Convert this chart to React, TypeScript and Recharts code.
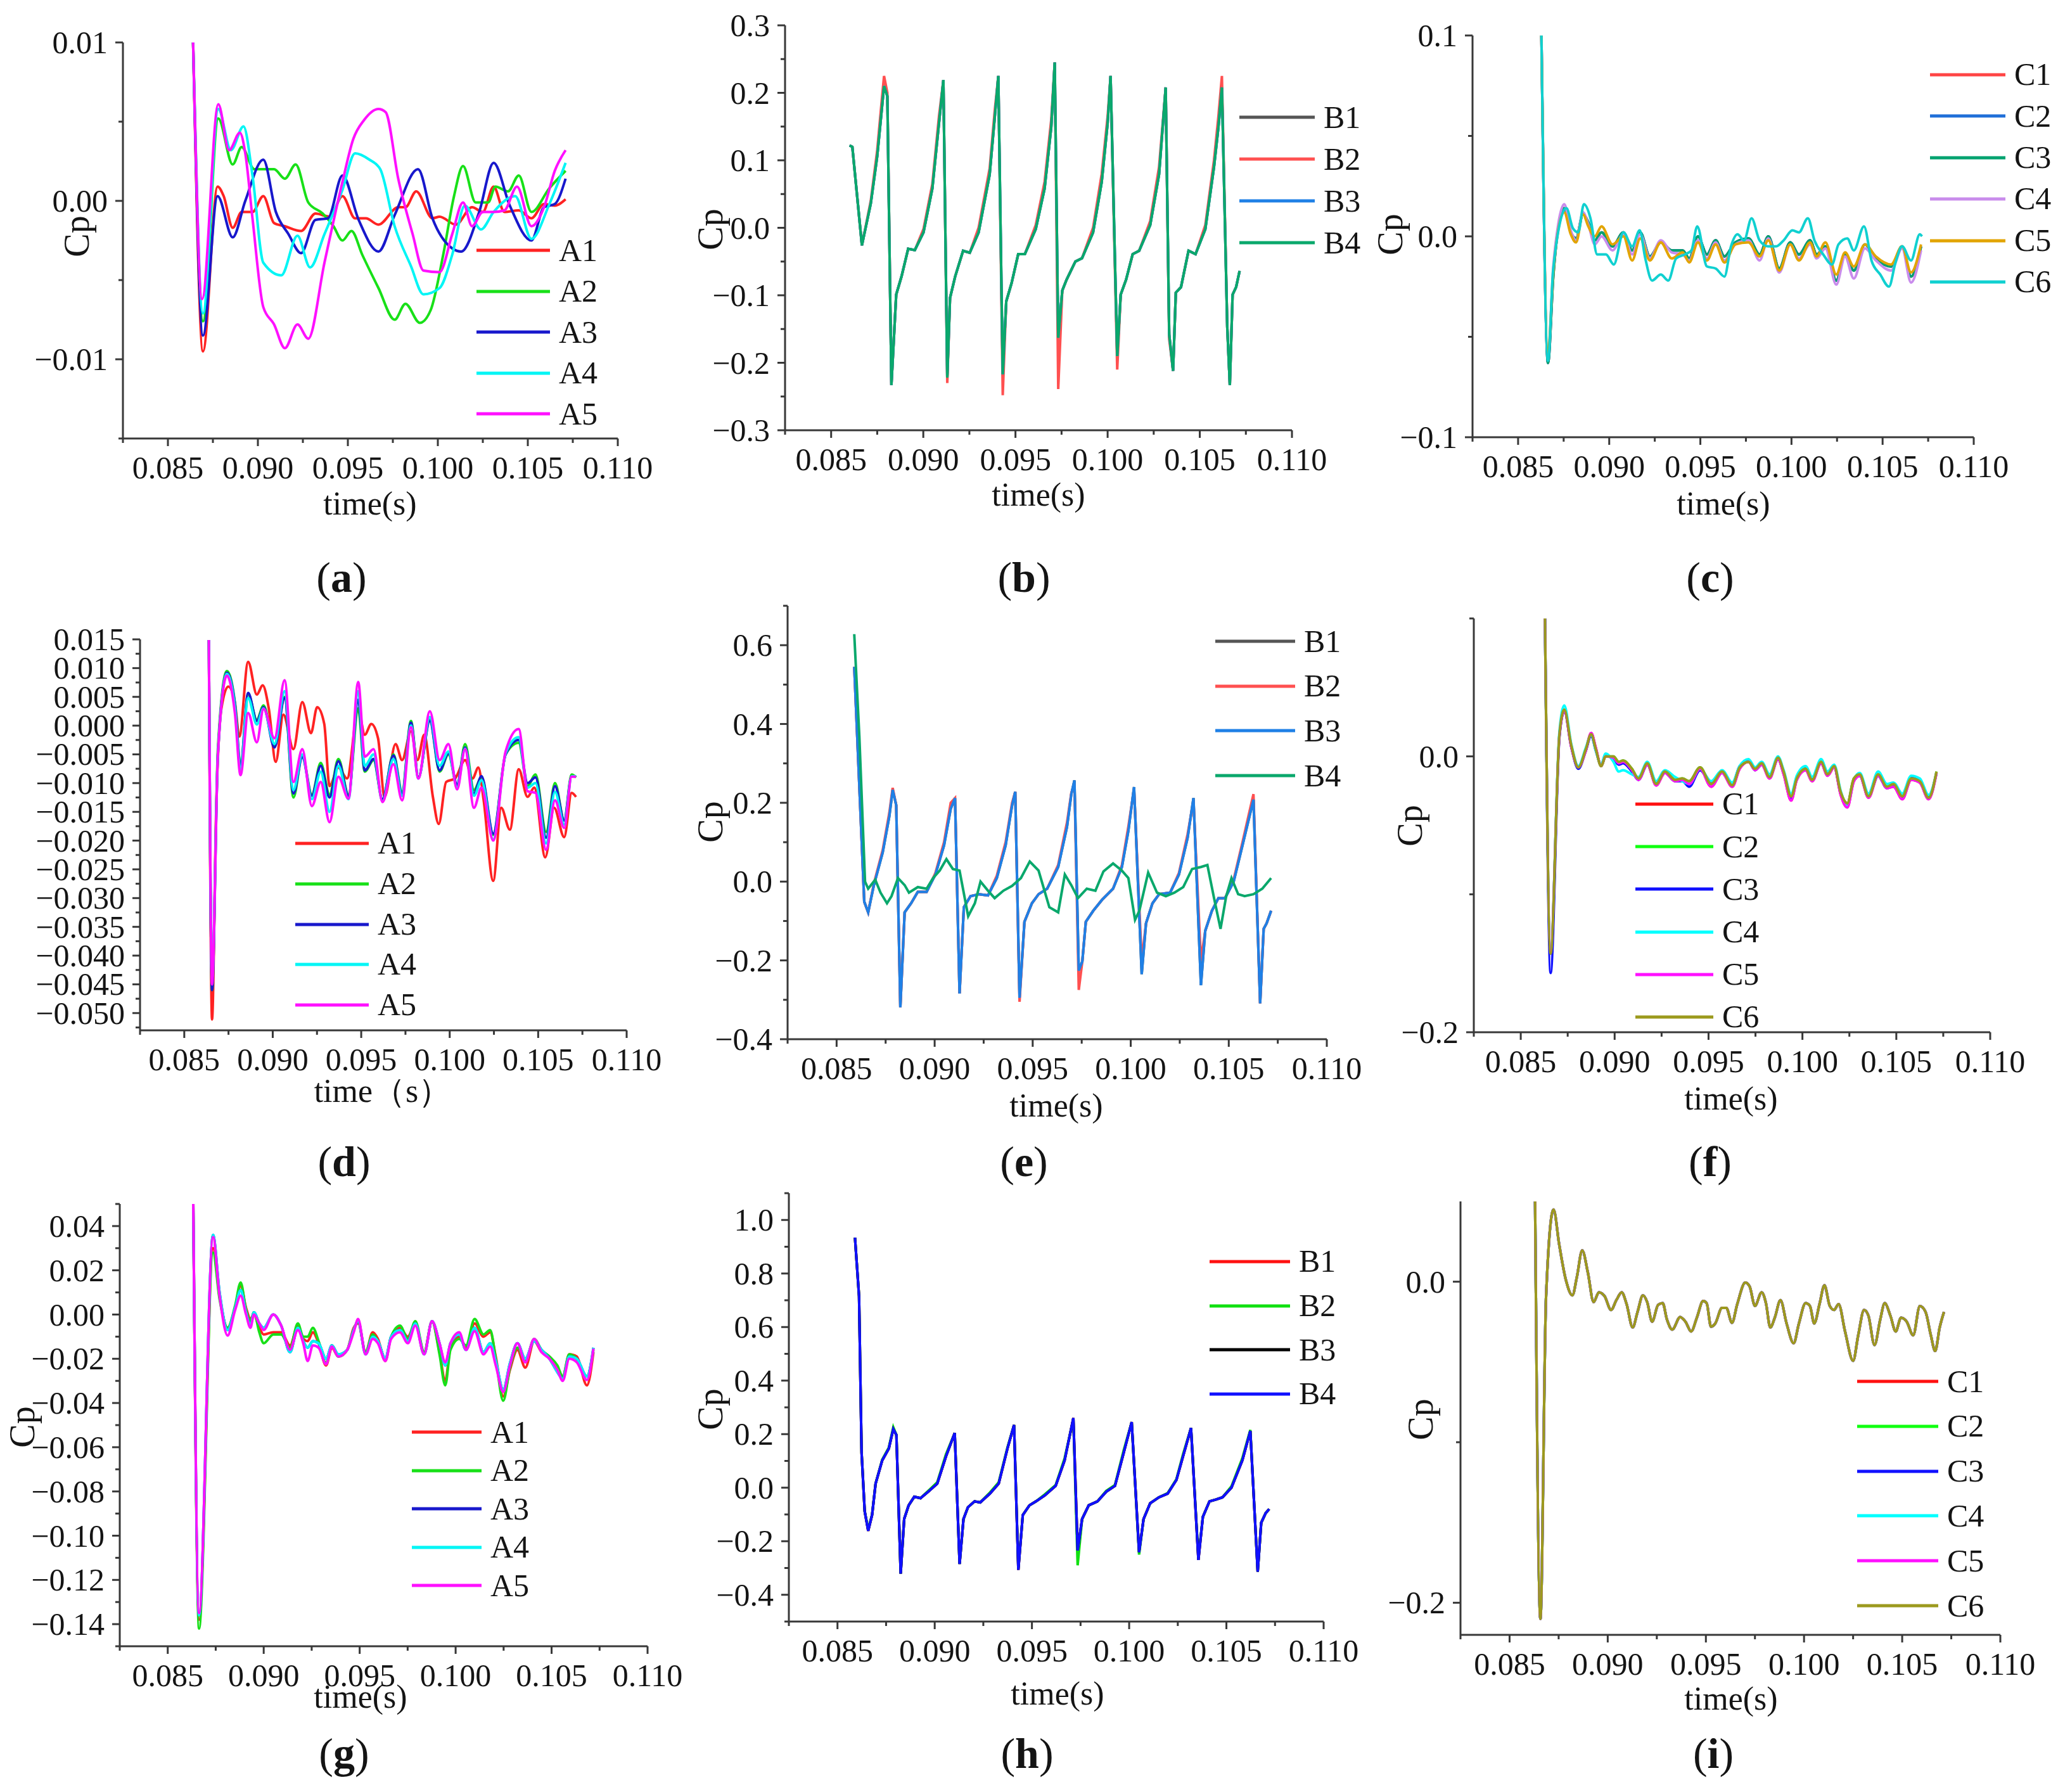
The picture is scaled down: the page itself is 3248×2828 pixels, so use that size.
import React from 'react'
import { LineChart, Line, XAxis, YAxis, Legend } from 'recharts'

// Cp time histories at probe rows A/B/C, three cases (rows a-c, d-f, g-i).

const FONT = '"Liberation Serif", "Times New Roman", serif'
const AXIS = '#383838'
const INK = '#141414'

// shared time axis
const X_DOMAIN: [number, number] = [0.0825, 0.11]
const X_MAJOR = [0.085, 0.09, 0.095, 0.1, 0.105, 0.11]
const X_MINOR = [0.0825, 0.0875, 0.0925, 0.0975, 0.1025, 0.1075]

// ---------- (a) rows A, case 1 : [time, Cp]
const aA1 = [[0.0864, 0.01], [0.08695, -0.0095], [0.08776, 0.0009], [0.0881, 0.0003], [0.0886, -0.0017], [0.0891, -0.0007], [0.0897, -0.0007], [0.0903, 0.0003], [0.0909, -0.0014], [0.0915, -0.0016], [0.0924, -0.0019], [0.0932, -0.0008], [0.094, -0.001], [0.0947, 0.0003], [0.0954, -0.0011], [0.096, -0.0011], [0.0967, -0.0015], [0.0978, -0.0004], [0.0982, -0.0004], [0.0988, 0.0006], [0.0997, -0.0011], [0.1001, -0.001], [0.101, -0.0015], [0.1019, -0.0004], [0.1025, -0.0007], [0.1031, 0.0009], [0.1037, -0.0007], [0.1045, -0.0006], [0.1052, -0.0011], [0.1059, -0.0002], [0.1065, -0.0003], [0.1071, 0.0001]]
const aA2 = [[0.0864, 0.01], [0.08695, -0.0076], [0.0878, 0.0052], [0.0886, 0.0023], [0.0891, 0.0034], [0.0898, 0.002], [0.0904, 0.002], [0.0909, 0.002], [0.0915, 0.0014], [0.0921, 0.0023], [0.0928, -0.0001], [0.0936, -0.0008], [0.0942, -0.0016], [0.0947, -0.0025], [0.0952, -0.0019], [0.0958, -0.0034], [0.0967, -0.0055], [0.0976, -0.0075], [0.0982, -0.0065], [0.099, -0.0077], [0.0996, -0.0069], [0.1003, -0.0034], [0.1009, 0.0003], [0.1014, 0.0022], [0.1021, -0.0001], [0.1028, -0.0001], [0.1032, 0.0009], [0.1039, 0.0006], [0.1045, 0.0016], [0.1052, -0.0007], [0.1062, 0.0008], [0.1071, 0.0019]]
const aA3 = [[0.0864, 0.01], [0.08695, -0.0085], [0.08776, 0.0003], [0.0886, -0.0023], [0.0893, 0], [0.0903, 0.0026], [0.091, -0.0007], [0.0917, -0.0021], [0.0924, -0.0033], [0.0932, -0.0012], [0.0939, -0.0011], [0.0947, 0.0016], [0.0956, -0.0012], [0.0967, -0.0032], [0.0976, -0.0009], [0.0989, 0.002], [0.0997, -0.0011], [0.1008, -0.003], [0.1013, -0.0032], [0.1023, -0.0007], [0.1031, 0.0024], [0.104, -0.0003], [0.1052, -0.0025], [0.1059, -0.0004], [0.1065, -0.0002], [0.1071, 0.0014]]
const aA4 = [[0.0864, 0.01], [0.08695, -0.0071], [0.0878, 0.0058], [0.0885, 0.0032], [0.0892, 0.0047], [0.0897, 0.0016], [0.0903, -0.0039], [0.0913, -0.0047], [0.0922, -0.0022], [0.0929, -0.0042], [0.0937, -0.0021], [0.0947, 0.0007], [0.0954, 0.003], [0.0962, 0.0026], [0.0968, 0.002], [0.0976, -0.0016], [0.0985, -0.0041], [0.0992, -0.0059], [0.1001, -0.0055], [0.1008, -0.0034], [0.1015, -0.0003], [0.1024, -0.0018], [0.1031, -0.0007], [0.1043, 0.0003], [0.1052, -0.0024], [0.1062, -0.0002], [0.1071, 0.0024]]
const aA5 = [[0.0864, 0.01], [0.0869, -0.0062], [0.0878, 0.0061], [0.0884, 0.0032], [0.089, 0.0043], [0.0893, 0.003], [0.0897, -0.0011], [0.0903, -0.0067], [0.0909, -0.0078], [0.0915, -0.0093], [0.0922, -0.0078], [0.0928, -0.0087], [0.0937, -0.0039], [0.0947, 0.0012], [0.0953, 0.0039], [0.0959, 0.0051], [0.0967, 0.0058], [0.0971, 0.0056], [0.0978, 0.0014], [0.0986, -0.0021], [0.0992, -0.0044], [0.1001, -0.0045], [0.1008, -0.0021], [0.1014, -0.0001], [0.1019, -0.0016], [0.1025, -0.0007], [0.1031, -0.0007], [0.1037, -0.0006], [0.1044, 0.0009], [0.1052, -0.0016], [0.1059, -0.0004], [0.1065, 0.0019], [0.1071, 0.0032]]

// ---------- (b) rows B, case 1 (B1, B3 lie under B4)
const bT = [0.086, 0.08615, 0.08667, 0.08715, 0.0875, 0.08775, 0.08787, 0.08805, 0.08827, 0.08853, 0.08882, 0.08918, 0.08954, 0.09001, 0.09049, 0.09085, 0.09109, 0.0913, 0.09145, 0.09173, 0.09216, 0.09252, 0.093, 0.0936, 0.09388, 0.09407, 0.09431, 0.0945, 0.09479, 0.09515, 0.09551, 0.0961, 0.09658, 0.09694, 0.09713, 0.09732, 0.09754, 0.09777, 0.09825, 0.09861, 0.09921, 0.09968, 0.1, 0.10016, 0.10052, 0.10071, 0.101, 0.10136, 0.10171, 0.10231, 0.10279, 0.10315, 0.10334, 0.10355, 0.1037, 0.10398, 0.10439, 0.10477, 0.1053, 0.10577, 0.10601, 0.1062, 0.10649, 0.10663, 0.10678, 0.10697, 0.10716]
const bB4 = [0.122, 0.12, -0.026, 0.036, 0.106, 0.176, 0.21, 0.195, -0.233, -0.099, -0.072, -0.031, -0.033, -0.007, 0.058, 0.155, 0.219, -0.222, -0.104, -0.072, -0.034, -0.037, -0.007, 0.079, 0.165, 0.225, -0.217, -0.109, -0.082, -0.039, -0.039, -0.002, 0.058, 0.149, 0.245, -0.163, -0.093, -0.077, -0.05, -0.045, -0.007, 0.068, 0.155, 0.225, -0.19, -0.099, -0.077, -0.039, -0.034, 0.004, 0.079, 0.208, -0.158, -0.212, -0.096, -0.088, -0.034, -0.039, -0.002, 0.09, 0.149, 0.208, -0.147, -0.233, -0.099, -0.088, -0.064]
const bB2 = [0.122, 0.12, -0.026, 0.04, 0.115, 0.19, 0.225, 0.2, -0.233, -0.099, -0.072, -0.031, -0.033, -0.002, 0.065, 0.165, 0.219, -0.23, -0.104, -0.072, -0.034, -0.037, 0, 0.088, 0.175, 0.225, -0.248, -0.109, -0.082, -0.039, -0.039, 0.004, 0.068, 0.16, 0.245, -0.239, -0.093, -0.077, -0.05, -0.045, 0, 0.08, 0.165, 0.225, -0.21, -0.099, -0.077, -0.039, -0.034, 0.01, 0.09, 0.208, -0.165, -0.212, -0.096, -0.088, -0.034, -0.039, 0.004, 0.1, 0.165, 0.225, -0.147, -0.233, -0.099, -0.088, -0.064]

// ---------- (c) rows C, case 1 (C1, C2 lie under C3)
const cT = [0.08628, 0.08664, 0.08693, 0.0872, 0.08753, 0.08789, 0.08818, 0.08856, 0.08885, 0.08921, 0.08958, 0.09018, 0.09078, 0.09126, 0.0917, 0.09223, 0.09283, 0.09343, 0.09403, 0.09439, 0.09487, 0.09536, 0.09584, 0.09632, 0.09692, 0.09764, 0.09825, 0.09873, 0.09933, 0.09993, 0.10041, 0.10102, 0.10138, 0.10186, 0.10246, 0.10294, 0.10342, 0.10403, 0.10463, 0.10547, 0.10607, 0.10656, 0.10711]
const cC3 = [0.1, -0.063, -0.02, 0.004, 0.014, 0.002, -0.001, 0.011, 0.007, -0.002, 0.002, -0.005, 0.002, -0.007, 0.002, -0.01, -0.003, -0.007, -0.007, -0.011, 0, -0.009, -0.002, -0.01, -0.003, -0.001, -0.009, 0, -0.016, -0.003, -0.009, -0.002, -0.009, -0.005, -0.022, -0.009, -0.017, -0.004, -0.011, -0.015, -0.005, -0.02, -0.005]
const cC4 = [0.1, -0.06, -0.015, 0.006, 0.016, 0.003, -0.002, 0.012, 0.006, -0.004, 0, -0.007, 0.001, -0.009, 0.001, -0.011, -0.002, -0.008, -0.009, -0.012, -0.002, -0.011, -0.003, -0.012, -0.004, -0.002, -0.012, -0.001, -0.018, -0.004, -0.011, -0.004, -0.011, -0.006, -0.024, -0.01, -0.021, -0.006, -0.012, -0.017, -0.006, -0.023, -0.007]
const cC5 = [0.1, -0.058, -0.018, 0.003, 0.012, 0.001, -0.003, 0.011, 0.005, 0, 0.005, -0.004, 0, -0.012, -0.001, -0.012, -0.003, -0.011, -0.008, -0.013, -0.003, -0.012, -0.004, -0.013, -0.004, -0.003, -0.01, -0.002, -0.017, -0.004, -0.012, -0.003, -0.01, -0.003, -0.019, -0.008, -0.015, -0.004, -0.01, -0.014, -0.005, -0.018, -0.004]
const cC6 = [[0.08628, 0.1], [0.08664, -0.062], [0.08693, -0.016], [0.08765, 0.014], [0.08801, 0.004], [0.0883, 0.002], [0.08861, 0.016], [0.08897, 0.009], [0.08934, -0.009], [0.08982, -0.009], [0.09025, -0.014], [0.09078, 0.002], [0.09126, -0.005], [0.09167, 0.003], [0.09198, -0.011], [0.09235, -0.022], [0.09283, -0.019], [0.09324, -0.022], [0.09367, -0.011], [0.09415, -0.009], [0.09451, -0.007], [0.09483, 0.005], [0.09536, -0.015], [0.09584, -0.016], [0.09632, -0.02], [0.09668, -0.005], [0.09704, 0.001], [0.0974, -0.002], [0.09781, 0.009], [0.09825, -0.002], [0.09873, -0.005], [0.09916, -0.005], [0.09957, -0.002], [0.10005, 0.003], [0.10041, 0.002], [0.1009, 0.009], [0.10126, -0.002], [0.10174, -0.009], [0.10222, -0.014], [0.10258, -0.004], [0.10306, -0.001], [0.10342, -0.007], [0.10398, 0.005], [0.10439, -0.012], [0.10487, -0.019], [0.10535, -0.025], [0.10571, -0.013], [0.10607, -0.005], [0.10656, -0.012], [0.10704, 0.001], [0.10716, 0]]

// ---------- (d) rows A, case 2
const dA1 = [[0.08639, 0.0149], [0.08657, -0.0511], [0.0868, -0.015], [0.0871, 0.003], [0.08749, 0.0068], [0.08786, 0.004], [0.08811, -0.0019], [0.08861, 0.0111], [0.0891, 0.0054], [0.08943, 0.007], [0.08978, 0.0029], [0.09017, -0.0063], [0.0906, 0.0019], [0.09117, -0.0041], [0.09167, 0.0041], [0.09216, -0.0013], [0.09251, 0.0032], [0.09291, 0.0003], [0.09321, -0.0105], [0.09371, -0.0073], [0.0942, -0.0092], [0.09483, 0.0029], [0.0952, -0.0016], [0.09557, 0.0003], [0.09595, -0.0022], [0.09632, -0.0124], [0.09694, -0.0032], [0.09731, -0.006], [0.09781, -0.001], [0.09818, -0.006], [0.09856, -0.0016], [0.09905, -0.0124], [0.09938, -0.0171], [0.0998, -0.0098], [0.1003, -0.0092], [0.10087, -0.006], [0.10129, -0.0092], [0.10162, -0.0073], [0.10192, -0.013], [0.10246, -0.027], [0.10291, -0.0143], [0.1034, -0.0181], [0.1039, -0.0076], [0.1044, -0.0124], [0.10478, -0.0108], [0.1054, -0.0229], [0.1059, -0.0143], [0.10647, -0.0194], [0.10689, -0.0117], [0.10714, -0.0124]]
const dT = [0.08639, 0.08657, 0.0869, 0.08741, 0.08786, 0.08818, 0.08861, 0.0891, 0.08948, 0.0901, 0.09067, 0.09117, 0.09167, 0.09221, 0.09271, 0.09321, 0.09371, 0.09428, 0.09483, 0.0952, 0.0957, 0.0962, 0.09682, 0.09731, 0.09781, 0.09823, 0.09888, 0.09943, 0.09993, 0.10042, 0.10087, 0.10137, 0.1018, 0.10246, 0.10316, 0.1039, 0.1044, 0.10485, 0.10545, 0.10595, 0.10647, 0.10689, 0.10714]
const dA2 = [0.0149, -0.046, -0.004, 0.0095, 0.004, -0.007, 0.0055, 0.001, 0.0035, -0.0035, 0.005, -0.0125, -0.0052, -0.012, -0.0065, -0.012, -0.0058, -0.012, 0.003, -0.008, -0.006, -0.013, -0.005, -0.0115, 0.0008, -0.009, 0.001, -0.008, -0.005, -0.0105, -0.0032, -0.0112, -0.009, -0.019, -0.005, -0.003, -0.0105, -0.0085, -0.0185, -0.01, -0.0165, -0.0085, -0.009]
const dA3 = [0.0149, -0.046, -0.005, 0.0092, 0.0038, -0.0072, 0.0057, 0.0008, 0.0032, -0.0038, 0.0048, -0.0118, -0.0055, -0.0122, -0.007, -0.0125, -0.0062, -0.0122, 0.0045, -0.0078, -0.0058, -0.0128, -0.0052, -0.0118, 0.0005, -0.009, 0.0008, -0.0078, -0.0048, -0.0102, -0.0038, -0.0118, -0.0088, -0.0188, -0.005, -0.0025, -0.01, -0.009, -0.0195, -0.0105, -0.0165, -0.0088, -0.0088]
const dA4 = [0.0149, -0.044, -0.005, 0.009, 0.0032, -0.0078, 0.0048, 0.0002, 0.003, -0.0032, 0.006, -0.0112, -0.005, -0.0128, -0.008, -0.015, -0.007, -0.0128, 0.006, -0.007, -0.005, -0.0132, -0.0058, -0.0122, 0, -0.0092, 0.0015, -0.007, -0.0045, -0.0108, -0.004, -0.0122, -0.0095, -0.0198, -0.0048, -0.002, -0.0108, -0.01, -0.0205, -0.0115, -0.0172, -0.0088, -0.0088]
const dA5 = [0.0149, -0.045, -0.005, 0.0087, 0.0022, -0.0086, 0.0022, -0.0029, 0.0029, -0.0022, 0.0079, -0.0098, -0.0041, -0.014, -0.0098, -0.0168, -0.0089, -0.0127, 0.0076, -0.0054, -0.0041, -0.0133, -0.0067, -0.013, -0.0003, -0.0092, 0.0025, -0.006, -0.0032, -0.0111, -0.0041, -0.0143, -0.0108, -0.02, -0.0045, -0.0006, -0.0114, -0.0117, -0.0216, -0.013, -0.0178, -0.0089, -0.0089]

// ---------- (e) rows B, case 2 (B1 lies under B3)
const eT = [0.0859, 0.08641, 0.08661, 0.0869, 0.08735, 0.08769, 0.08786, 0.08804, 0.08825, 0.08847, 0.0888, 0.08914, 0.08959, 0.09004, 0.09048, 0.09082, 0.09104, 0.09127, 0.09149, 0.09183, 0.09227, 0.09272, 0.09317, 0.09362, 0.09395, 0.09411, 0.09433, 0.09458, 0.09496, 0.0953, 0.09574, 0.0963, 0.09675, 0.09697, 0.09713, 0.09735, 0.09753, 0.09771, 0.09809, 0.09854, 0.0991, 0.09955, 0.09988, 0.10017, 0.10056, 0.10078, 0.10111, 0.10145, 0.10201, 0.10246, 0.1029, 0.1032, 0.10358, 0.1038, 0.10414, 0.10447, 0.10481, 0.10525, 0.1057, 0.10626, 0.1066, 0.10678, 0.10693, 0.10716]
const eB3 = [0.545, -0.051, -0.078, -0.009, 0.074, 0.166, 0.233, 0.194, -0.319, -0.078, -0.055, -0.026, -0.026, 0.018, 0.092, 0.185, 0.212, -0.284, -0.065, -0.037, -0.032, -0.035, 0.009, 0.092, 0.194, 0.228, -0.295, -0.102, -0.055, -0.032, -0.018, 0.037, 0.139, 0.222, 0.257, -0.226, -0.203, -0.102, -0.074, -0.046, -0.018, 0.037, 0.129, 0.24, -0.235, -0.106, -0.055, -0.032, -0.028, 0.018, 0.111, 0.212, -0.263, -0.125, -0.074, -0.042, -0.042, 0, 0.092, 0.208, -0.309, -0.12, -0.106, -0.074]
const eB2 = [0.545, -0.051, -0.078, -0.005, 0.08, 0.175, 0.238, 0.194, -0.319, -0.078, -0.055, -0.026, -0.026, 0.022, 0.1, 0.2, 0.212, -0.284, -0.065, -0.037, -0.032, -0.035, 0.015, 0.1, 0.2, 0.228, -0.305, -0.102, -0.055, -0.032, -0.018, 0.042, 0.15, 0.225, 0.25, -0.275, -0.203, -0.102, -0.074, -0.046, -0.018, 0.042, 0.14, 0.235, -0.2, -0.106, -0.055, -0.032, -0.028, 0.022, 0.12, 0.205, -0.2, -0.125, -0.074, -0.042, -0.042, 0.005, 0.1, 0.222, -0.309, -0.12, -0.106, -0.074]
const eB4 = [[0.0859, 0.628], [0.08616, 0.369], [0.08645, 0], [0.08661, -0.018], [0.08697, 0.005], [0.08724, -0.028], [0.08757, -0.055], [0.0878, -0.037], [0.08813, 0.009], [0.08847, -0.009], [0.08869, -0.028], [0.08914, -0.014], [0.08959, -0.018], [0.08992, 0.009], [0.09026, 0.028], [0.0906, 0.057], [0.09093, 0.032], [0.09127, 0.028], [0.09171, -0.088], [0.09205, -0.055], [0.09234, 0], [0.09272, -0.023], [0.09306, -0.042], [0.09351, -0.023], [0.09395, -0.011], [0.0944, 0.009], [0.09485, 0.051], [0.0953, 0.028], [0.09585, -0.065], [0.0963, -0.078], [0.09664, 0.018], [0.09697, -0.009], [0.09731, -0.042], [0.09776, -0.018], [0.0982, -0.023], [0.09861, 0.026], [0.0991, 0.046], [0.09955, 0.028], [0.09988, 0.009], [0.10022, -0.097], [0.10044, -0.074], [0.10089, 0.023], [0.10134, -0.028], [0.10179, -0.037], [0.10223, -0.028], [0.10268, -0.014], [0.10313, 0.032], [0.10358, 0.037], [0.10391, 0.042], [0.10425, -0.042], [0.10458, -0.12], [0.10487, -0.037], [0.10514, 0.009], [0.10548, -0.032], [0.10581, -0.037], [0.10626, -0.032], [0.10671, -0.018], [0.10716, 0.009]]

// ---------- (f) rows C, case 2 (C1, C2 lie under the others)
const fT = [0.08629, 0.08659, 0.08706, 0.08732, 0.08769, 0.08807, 0.08846, 0.08875, 0.089, 0.08928, 0.08952, 0.08994, 0.09022, 0.09045, 0.09092, 0.09127, 0.09174, 0.09221, 0.09268, 0.09322, 0.09361, 0.09397, 0.09455, 0.09514, 0.09572, 0.09626, 0.09666, 0.09713, 0.09748, 0.09783, 0.09825, 0.0987, 0.099, 0.0994, 0.0997, 0.10017, 0.10052, 0.10099, 0.10134, 0.10169, 0.10204, 0.10239, 0.10274, 0.10305, 0.10352, 0.10403, 0.1045, 0.10485, 0.10532, 0.10579, 0.10625, 0.10672, 0.10714]
const fC3 = [0.1, -0.157, 0.014, 0.033, 0.007, -0.009, 0.004, 0.015, 0.004, -0.006, 0.001, -0.002, -0.006, -0.005, -0.011, -0.017, -0.006, -0.019, -0.012, -0.018, -0.018, -0.022, -0.01, -0.019, -0.012, -0.02, -0.007, -0.003, -0.01, -0.006, -0.014, -0.002, -0.012, -0.03, -0.015, -0.008, -0.016, -0.005, -0.012, -0.008, -0.027, -0.035, -0.017, -0.014, -0.028, -0.014, -0.023, -0.021, -0.03, -0.015, -0.017, -0.029, -0.012]
const fC4 = [0.1, -0.14, 0.018, 0.037, 0.009, -0.007, 0.006, 0.016, 0.004, -0.006, 0.002, -0.004, -0.011, -0.01, -0.013, -0.015, -0.004, -0.018, -0.01, -0.015, -0.018, -0.02, -0.009, -0.018, -0.01, -0.019, -0.007, -0.002, -0.008, -0.004, -0.013, 0, -0.01, -0.027, -0.014, -0.007, -0.015, -0.002, -0.011, -0.006, -0.025, -0.036, -0.017, -0.012, -0.027, -0.011, -0.02, -0.019, -0.027, -0.014, -0.016, -0.028, -0.012]
const fC5 = [0.1, -0.141, 0.015, 0.033, 0.007, -0.008, 0.004, 0.017, 0.006, -0.007, 0, -0.001, -0.005, -0.004, -0.01, -0.017, -0.006, -0.021, -0.012, -0.018, -0.017, -0.02, -0.009, -0.022, -0.012, -0.022, -0.009, -0.004, -0.01, -0.006, -0.016, -0.002, -0.013, -0.032, -0.017, -0.01, -0.018, -0.005, -0.014, -0.008, -0.028, -0.037, -0.018, -0.014, -0.03, -0.014, -0.023, -0.022, -0.031, -0.017, -0.019, -0.031, -0.012]
const fC6 = [0.1, -0.143, 0.016, 0.034, 0.008, -0.008, 0.005, 0.016, 0.005, -0.007, 0, 0, -0.004, -0.003, -0.009, -0.016, -0.005, -0.02, -0.011, -0.017, -0.016, -0.018, -0.008, -0.02, -0.011, -0.021, -0.008, -0.004, -0.009, -0.005, -0.015, -0.001, -0.011, -0.029, -0.016, -0.009, -0.017, -0.004, -0.013, -0.007, -0.026, -0.034, -0.016, -0.013, -0.029, -0.013, -0.022, -0.02, -0.029, -0.016, -0.018, -0.03, -0.011]

// ---------- (g) rows A, case 3 (A3 and A4 coincide)
const gT = [0.08633, 0.08663, 0.08736, 0.0877, 0.08812, 0.08851, 0.0888, 0.08908, 0.08931, 0.08949, 0.08977, 0.09, 0.0905, 0.09091, 0.09137, 0.09178, 0.09206, 0.09229, 0.09256, 0.09286, 0.09325, 0.09355, 0.09389, 0.09435, 0.09469, 0.09492, 0.09531, 0.09568, 0.09595, 0.09634, 0.09664, 0.0971, 0.09751, 0.0979, 0.09836, 0.09877, 0.09916, 0.09946, 0.09973, 0.10019, 0.10054, 0.10099, 0.10145, 0.1018, 0.10209, 0.10248, 0.10283, 0.10322, 0.10363, 0.10409, 0.10448, 0.10489, 0.1053, 0.10558, 0.10592, 0.10631, 0.10684, 0.10718]
const gA1 = [0.05, -0.138, 0.03, 0.008, -0.006, 0.003, 0.013, 0.003, -0.002, 0, -0.006, -0.009, -0.008, -0.008, -0.014, -0.005, -0.011, -0.012, -0.008, -0.013, -0.023, -0.015, -0.019, -0.016, -0.006, -0.004, -0.017, -0.008, -0.011, -0.021, -0.01, -0.006, -0.01, -0.004, -0.017, -0.003, -0.017, -0.03, -0.015, -0.01, -0.015, -0.004, -0.01, -0.008, -0.019, -0.037, -0.025, -0.016, -0.024, -0.012, -0.017, -0.019, -0.024, -0.028, -0.018, -0.019, -0.032, -0.017]
const gA2 = [0.05, -0.142, 0.028, 0.007, -0.006, 0.004, 0.0145, 0.002, -0.003, 0.001, -0.008, -0.013, -0.009, -0.009, -0.015, -0.004, -0.01, -0.01, -0.006, -0.012, -0.022, -0.014, -0.019, -0.016, -0.007, -0.003, -0.017, -0.009, -0.012, -0.02, -0.01, -0.005, -0.011, -0.003, -0.017, -0.003, -0.018, -0.032, -0.016, -0.011, -0.014, -0.002, -0.009, -0.007, -0.02, -0.039, -0.024, -0.015, -0.021, -0.011, -0.016, -0.019, -0.023, -0.028, -0.018, -0.02, -0.028, -0.016]
const gA3 = [0.05, -0.136, 0.036, 0.01, -0.007, 0.003, 0.011, 0.001, -0.005, 0.001, -0.004, -0.006, 0, -0.005, -0.017, -0.006, -0.012, -0.015, -0.012, -0.013, -0.02, -0.014, -0.018, -0.016, -0.007, -0.003, -0.018, -0.01, -0.012, -0.02, -0.01, -0.007, -0.012, -0.004, -0.018, -0.003, -0.013, -0.023, -0.013, -0.009, -0.016, -0.006, -0.017, -0.013, -0.021, -0.034, -0.022, -0.013, -0.02, -0.012, -0.016, -0.02, -0.026, -0.029, -0.019, -0.02, -0.028, -0.015]
const gA5 = [0.05, -0.135, 0.035, 0.0085, -0.0095, 0.002, 0.0085, 0, -0.006, 0, -0.004, -0.007, 0, -0.005, -0.016, -0.007, -0.013, -0.021, -0.014, -0.015, -0.0225, -0.0145, -0.019, -0.016, -0.008, -0.002, -0.018, -0.011, -0.013, -0.021, -0.011, -0.008, -0.013, -0.005, -0.018, -0.003, -0.013, -0.0216, -0.013, -0.008, -0.016, -0.0075, -0.018, -0.0145, -0.023, -0.035, -0.023, -0.013, -0.0216, -0.011, -0.017, -0.02, -0.025, -0.03, -0.02, -0.0216, -0.0296, -0.0154]

// ---------- (h) rows B, case 3 (B1, B3 lie under B4)
const hT = [0.0859, 0.08611, 0.08624, 0.0864, 0.08658, 0.08678, 0.08696, 0.0873, 0.08764, 0.08787, 0.08803, 0.08825, 0.08843, 0.08866, 0.08895, 0.08927, 0.08967, 0.09013, 0.09058, 0.09103, 0.09128, 0.09148, 0.09171, 0.09205, 0.09234, 0.09284, 0.09329, 0.09374, 0.09408, 0.0943, 0.09453, 0.09487, 0.09521, 0.09566, 0.09622, 0.09668, 0.09713, 0.09735, 0.09758, 0.09792, 0.09837, 0.09882, 0.09927, 0.09972, 0.10013, 0.10051, 0.10074, 0.10108, 0.10153, 0.10198, 0.10243, 0.10277, 0.10318, 0.10356, 0.10379, 0.10413, 0.10447, 0.1048, 0.10526, 0.10582, 0.10623, 0.10661, 0.10679, 0.10702, 0.1072]
const hB4 = [0.934, 0.715, 0.131, -0.088, -0.161, -0.102, 0.015, 0.102, 0.146, 0.219, 0.197, -0.321, -0.117, -0.066, -0.034, -0.039, -0.015, 0.015, 0.117, 0.204, -0.285, -0.117, -0.073, -0.051, -0.055, -0.022, 0.015, 0.146, 0.234, -0.307, -0.102, -0.066, -0.051, -0.029, 0.007, 0.102, 0.26, -0.234, -0.117, -0.066, -0.051, -0.015, 0.007, 0.131, 0.245, -0.241, -0.117, -0.058, -0.036, -0.022, 0.029, 0.117, 0.223, -0.27, -0.109, -0.051, -0.044, -0.036, 0, 0.102, 0.212, -0.314, -0.131, -0.095, -0.08]
const hB2 = [0.934, 0.715, 0.131, -0.088, -0.155, -0.1, 0.015, 0.105, 0.15, 0.226, 0.197, -0.321, -0.117, -0.066, -0.034, -0.039, -0.012, 0.02, 0.125, 0.204, -0.285, -0.117, -0.073, -0.051, -0.055, -0.018, 0.02, 0.15, 0.234, -0.3, -0.102, -0.066, -0.051, -0.025, 0.01, 0.11, 0.255, -0.29, -0.117, -0.066, -0.051, -0.012, 0.01, 0.14, 0.245, -0.25, -0.117, -0.058, -0.036, -0.02, 0.032, 0.125, 0.223, -0.26, -0.109, -0.051, -0.044, -0.036, 0.005, 0.11, 0.216, -0.314, -0.131, -0.095, -0.08]

// ---------- (i) rows C, case 3 (all six curves coincide)
const iC = [[0.0863, 0.05], [0.08657, -0.21], [0.08686, -0.009], [0.08724, 0.045], [0.08753, 0.023], [0.08787, 0.001], [0.0882, -0.0085], [0.08843, 0.003], [0.0887, 0.0195], [0.08899, 0.0056], [0.08928, -0.0127], [0.08955, -0.0066], [0.08984, -0.009], [0.09017, -0.0176], [0.09044, -0.0115], [0.09071, -0.0066], [0.09096, -0.0139], [0.09127, -0.0285], [0.09152, -0.0188], [0.09179, -0.0085], [0.09201, -0.0127], [0.09226, -0.0249], [0.09257, -0.0144], [0.0928, -0.0134], [0.09302, -0.0237], [0.09329, -0.0298], [0.09369, -0.022], [0.09396, -0.0249], [0.09425, -0.031], [0.09454, -0.0224], [0.09486, -0.012], [0.09504, -0.0134], [0.09526, -0.028], [0.09548, -0.026], [0.09582, -0.0163], [0.09604, -0.0163], [0.09633, -0.0256], [0.0966, -0.0139], [0.09701, -0.0005], [0.09723, -0.003], [0.0975, -0.0151], [0.09784, -0.0066], [0.09806, -0.0134], [0.09828, -0.0285], [0.09851, -0.0224], [0.0988, -0.0115], [0.09911, -0.026], [0.09947, -0.0383], [0.09974, -0.026], [0.10008, -0.0134], [0.1003, -0.0151], [0.10052, -0.026], [0.10079, -0.0139], [0.10104, -0.0022], [0.10131, -0.0151], [0.10153, -0.0176], [0.10176, -0.0139], [0.10209, -0.031], [0.1025, -0.0493], [0.10276, -0.0334], [0.10306, -0.0176], [0.10328, -0.0212], [0.10359, -0.0395], [0.10388, -0.0237], [0.10411, -0.0134], [0.1044, -0.0212], [0.10467, -0.031], [0.10494, -0.0224], [0.10523, -0.0249], [0.10556, -0.0334], [0.1059, -0.0151], [0.10619, -0.0188], [0.10646, -0.0334], [0.10668, -0.0432], [0.10691, -0.0285], [0.10713, -0.0188]]

// y tick values per panel
const aYMajor = [0.01, 0, -0.01]
const aYMinor = [0.005, -0.005, -0.015]
const bYMajor = [0.3, 0.2, 0.1, 0, -0.1, -0.2, -0.3]
const bYMinor = [0.25, 0.15, 0.05, -0.05, -0.15, -0.25]
const cYMajor = [0.1, 0, -0.1]
const cYMinor = [0.05, -0.05]
const dYMajor = [0.015, 0.01, 0.005, 0, -0.005, -0.01, -0.015, -0.02, -0.025, -0.03, -0.035, -0.04, -0.045, -0.05]
const dYMinor = [0.0125, 0.0075, 0.0025, -0.0025, -0.0075, -0.0125, -0.0175, -0.0225, -0.0275, -0.0325, -0.0375, -0.0425, -0.0475, -0.0525]
const eYMajor = [0.6, 0.4, 0.2, 0, -0.2, -0.4]
const eYMinor = [0.7, 0.5, 0.3, 0.1, -0.1, -0.3]
const fYMajor = [0, -0.2]
const fYMinor = [0.1, -0.1]
const gYMajor = [0.04, 0.02, 0, -0.02, -0.04, -0.06, -0.08, -0.1, -0.12, -0.14]
const gYMinor = [0.05, 0.03, 0.01, -0.01, -0.03, -0.05, -0.07, -0.09, -0.11, -0.13, -0.15]
const hYMajor = [1, 0.8, 0.6, 0.4, 0.2, 0, -0.2, -0.4]
const hYMinor = [1.1, 0.9, 0.7, 0.5, 0.3, 0.1, -0.1, -0.3, -0.5]
const iYMajor = [0, -0.2]
const iYMinor = [-0.1]

type Pt = { t: number; v: number }
const pairs = (rows: number[][]): Pt[] => rows.map(([t, v]) => ({ t, v }))
const zip = (ts: number[], vs: number[]): Pt[] => ts.map((t, i) => ({ t, v: vs[i] }))

// colours
const A_COL = ['#ff2222', '#18e018', '#1818cc', '#00f5f5', '#ff10ff']
const B_COL_1 = ['#555555', '#ff5050', '#1f80e6', '#0aa86c']
const B_COL_3 = ['#ff1010', '#10e010', '#000000', '#1010ff']
const C_COL_1 = ['#ff4444', '#1f6fd8', '#00a26f', '#c98cec', '#e2a400', '#10d0d0']
const C_COL_2 = ['#ff1010', '#10ff10', '#1010ff', '#00ffff', '#ff10ff', '#9c9a1e']

type Series = { name: string; color: string; data: Pt[] }
type PanelCfg = {
  plot: [number, number, number, number] // x0, x1, y0, y1 in page px
  yDomain: [number, number]
  yMajor: number[]
  yMinor: number[]
  yDec: number
  curve: 'monotone' | 'linear'
  series: Series[]
  legend: { x: number; y: number; gap: number; len: number }
  cp: [number, number] | null
  time: { text: string; x: number; y: number }
  letter: { text: string; x: number; y: number }
}

const named = (prefix: string, colors: string[], data: Pt[][]): Series[] =>
  data.map((d, i) => ({ name: `${prefix}${i + 1}`, color: colors[i], data: d }))

const PANELS: PanelCfg[] = [
  {
    plot: [194, 975, 67, 692], yDomain: [-0.015, 0.01], yMajor: aYMajor, yMinor: aYMinor, yDec: 2, curve: 'monotone',
    series: named('A', A_COL, [pairs(aA1), pairs(aA2), pairs(aA3), pairs(aA4), pairs(aA5)]),
    legend: { x: 752, y: 395, gap: 64.5, len: 116 }, cp: [121, 373],
    time: { text: 'time(s)', x: 584, y: 795 }, letter: { text: 'a', x: 539, y: 911 },
  },
  {
    plot: [1239, 2039, 40, 679], yDomain: [-0.3, 0.3], yMajor: bYMajor, yMinor: bYMinor, yDec: 1, curve: 'linear',
    series: named('B', B_COL_1, [zip(bT, bB4), zip(bT, bB2), zip(bT, bB4), zip(bT, bB4)]),
    legend: { x: 1956, y: 185, gap: 66, len: 119 }, cp: [1121, 362],
    time: { text: 'time(s)', x: 1639, y: 781 }, letter: { text: 'b', x: 1616, y: 911 },
  },
  {
    plot: [2324, 3115, 56, 690], yDomain: [-0.1, 0.1], yMajor: cYMajor, yMinor: cYMinor, yDec: 1, curve: 'monotone',
    series: named('C', C_COL_1, [zip(cT, cC3), zip(cT, cC3), zip(cT, cC3), zip(cT, cC4), zip(cT, cC5), pairs(cC6)]),
    legend: { x: 3046, y: 118, gap: 65.4, len: 119 }, cp: [2194, 370],
    time: { text: 'time(s)', x: 2720, y: 795 }, letter: { text: 'c', x: 2699, y: 911 },
  },
  {
    plot: [221, 989, 1009, 1626], yDomain: [-0.053, 0.015], yMajor: dYMajor, yMinor: dYMinor, yDec: 3, curve: 'monotone',
    series: named('A', A_COL, [pairs(dA1), zip(dT, dA2), zip(dT, dA3), zip(dT, dA4), zip(dT, dA5)]),
    legend: { x: 466, y: 1331, gap: 63.75, len: 116 }, cp: null,
    time: { text: 'time\uFF08s\uFF09', x: 604, y: 1722 }, letter: { text: 'd', x: 543, y: 1833 },
  },
  {
    plot: [1243, 2094, 956, 1640], yDomain: [-0.4, 0.7], yMajor: eYMajor, yMinor: eYMinor, yDec: 1, curve: 'linear',
    series: named('B', B_COL_1, [zip(eT, eB3), zip(eT, eB2), zip(eT, eB3), pairs(eB4)]),
    legend: { x: 1918, y: 1012, gap: 70.7, len: 126 }, cp: [1121, 1297],
    time: { text: 'time(s)', x: 1667, y: 1745 }, letter: { text: 'e', x: 1616, y: 1833 },
  },
  {
    plot: [2326, 3141, 976, 1629], yDomain: [-0.2, 0.1], yMajor: fYMajor, yMinor: fYMinor, yDec: 1, curve: 'monotone',
    series: named('C', C_COL_2, [zip(fT, fC5), zip(fT, fC6), zip(fT, fC3), zip(fT, fC4), zip(fT, fC5), zip(fT, fC6)]),
    legend: { x: 2581, y: 1269, gap: 67.2, len: 123 }, cp: [2225, 1303],
    time: { text: 'time(s)', x: 2732, y: 1734 }, letter: { text: 'f', x: 2699, y: 1833 },
  },
  {
    plot: [189, 1022, 1900, 2598], yDomain: [-0.15, 0.05], yMajor: gYMajor, yMinor: gYMinor, yDec: 2, curve: 'monotone',
    series: named('A', A_COL, [zip(gT, gA1), zip(gT, gA2), zip(gT, gA3), zip(gT, gA3), zip(gT, gA5)]),
    legend: { x: 650, y: 2260, gap: 60.5, len: 110 }, cp: [35, 2252],
    time: { text: 'time(s)', x: 569, y: 2678 }, letter: { text: 'g', x: 543, y: 2767 },
  },
  {
    plot: [1245, 2089, 1883, 2559], yDomain: [-0.5, 1.1], yMajor: hYMajor, yMinor: hYMinor, yDec: 1, curve: 'linear',
    series: named('B', B_COL_3, [zip(hT, hB4), zip(hT, hB2), zip(hT, hB4), zip(hT, hB4)]),
    legend: { x: 1909, y: 1991, gap: 69.7, len: 127 }, cp: [1121, 2224],
    time: { text: 'time(s)', x: 1669, y: 2673 }, letter: { text: 'h', x: 1621, y: 2767 },
  },
  {
    plot: [2305, 3157, 1896, 2580], yDomain: [-0.22, 0.05], yMajor: iYMajor, yMinor: iYMinor, yDec: 1, curve: 'monotone',
    series: named('C', C_COL_2, [pairs(iC), pairs(iC), pairs(iC), pairs(iC), pairs(iC), pairs(iC)]),
    legend: { x: 2931, y: 2180, gap: 70.8, len: 128 }, cp: [2242, 2240],
    time: { text: 'time(s)', x: 2732, y: 2681 }, letter: { text: 'i', x: 2704, y: 2767 },
  },
]

// chart box around the plot rectangle
const ML = 180
const MR = 80
const MT = 30
const MB = 120
const TICK_FONT = 50

const fmt = (v: number, dec: number) => {
  const s = Math.abs(v).toFixed(dec)
  return v < 0 ? '\u2212' + s : s
}
const isIn = (list: number[], v: number) => list.some((m) => Math.abs(m - v) < 1e-9)

function LegendBox({ payload, gap, len }: { payload?: any[]; gap: number; len: number }) {
  return (
    <div style={{ fontFamily: FONT, fontSize: 50, color: INK }}>
      {(payload ?? []).map((p) => (
        <div key={p.value} style={{ display: 'flex', alignItems: 'center', height: gap, lineHeight: `${gap}px` }}>
          <svg width={len} height={10} style={{ display: 'block' }}>
            <line x1={0} x2={len} y1={5} y2={5} stroke={p.color} strokeWidth={5} />
          </svg>
          <span style={{ marginLeft: 14 }}>{p.value}</span>
        </div>
      ))}
    </div>
  )
}

function Panel({ c }: { c: PanelCfg }) {
  const [x0, x1, y0, y1] = c.plot
  const left = x0 - ML
  const top = y0 - MT
  const w = x1 - x0 + ML + MR
  const h = y1 - y0 + MT + MB

  const xTick = (p: any) => {
    const v = p.payload.value
    const major = isIn(X_MAJOR, v)
    return (
      <g>
        <line x1={p.x} x2={p.x} y1={p.y} y2={p.y + (major ? 12 : 7)} stroke={AXIS} strokeWidth={3} />
        {major && (
          <text x={p.x} y={p.y + 46} textAnchor="middle" dominantBaseline="central" fontSize={TICK_FONT} fontFamily={FONT} fill={INK}>
            {v.toFixed(3)}
          </text>
        )}
      </g>
    )
  }
  const yTick = (p: any) => {
    const v = p.payload.value
    const major = isIn(c.yMajor, v)
    return (
      <g>
        <line x1={p.x} x2={p.x - (major ? 12 : 7)} y1={p.y} y2={p.y} stroke={AXIS} strokeWidth={3} />
        {major && (
          <text x={p.x - 24} y={p.y} textAnchor="end" dominantBaseline="central" fontSize={TICK_FONT} fontFamily={FONT} fill={INK}>
            {fmt(v, c.yDec)}
          </text>
        )}
      </g>
    )
  }

  const lg = c.legend
  const center: React.CSSProperties = { position: 'absolute', fontFamily: FONT, color: INK, whiteSpace: 'nowrap', lineHeight: 1 }

  return (
    <>
      <div style={{ position: 'absolute', left, top, width: w, height: h }}>
        <LineChart width={w} height={h} margin={{ top: MT, right: MR, bottom: 0, left: 0 }}>
          <XAxis
            type="number"
            dataKey="t"
            domain={X_DOMAIN}
            ticks={[...X_MAJOR, ...X_MINOR]}
            interval={0}
            allowDataOverflow
            height={MB}
            tickSize={0}
            tickMargin={0}
            tickLine={false}
            axisLine={{ stroke: AXIS, strokeWidth: 3 }}
            tick={xTick}
          />
          <YAxis
            type="number"
            dataKey="v"
            domain={c.yDomain}
            ticks={[...c.yMajor, ...c.yMinor]}
            interval={0}
            allowDataOverflow
            width={ML}
            tickSize={0}
            tickMargin={0}
            tickLine={false}
            axisLine={{ stroke: AXIS, strokeWidth: 3 }}
            tick={yTick}
          />
          {c.series.map((s) => (
            <Line
              key={s.name}
              name={s.name}
              data={s.data}
              dataKey="v"
              type={c.curve}
              stroke={s.color}
              strokeWidth={4}
              dot={false}
              activeDot={false}
              isAnimationActive={false}
            />
          ))}
          <Legend
            layout="vertical"
            align="center"
            verticalAlign="middle"
            wrapperStyle={{ left: lg.x - left, top: lg.y - lg.gap / 2 - top, width: lg.len + 110 }}
            content={(p: any) => <LegendBox payload={p.payload} gap={lg.gap} len={lg.len} />}
          />
        </LineChart>
      </div>
      {c.cp && (
        <div style={{ ...center, left: c.cp[0], top: c.cp[1], fontSize: 56, transform: 'translate(-50%, -50%) rotate(-90deg)' }}>Cp</div>
      )}
      <div style={{ ...center, left: c.time.x, top: c.time.y, fontSize: 52, transform: 'translate(-50%, -50%)' }}>{c.time.text}</div>
      <div style={{ ...center, left: c.letter.x, top: c.letter.y, fontSize: 68, transform: 'translate(-50%, -50%)' }}>
        (<b>{c.letter.text}</b>)
      </div>
    </>
  )
}

export default function App() {
  return (
    <div style={{ position: 'absolute', left: 0, top: 0, width: 3248, height: 2828, background: '#ffffff', overflow: 'hidden' }}>
      {PANELS.map((c, i) => (
        <Panel key={i} c={c} />
      ))}
    </div>
  )
}
